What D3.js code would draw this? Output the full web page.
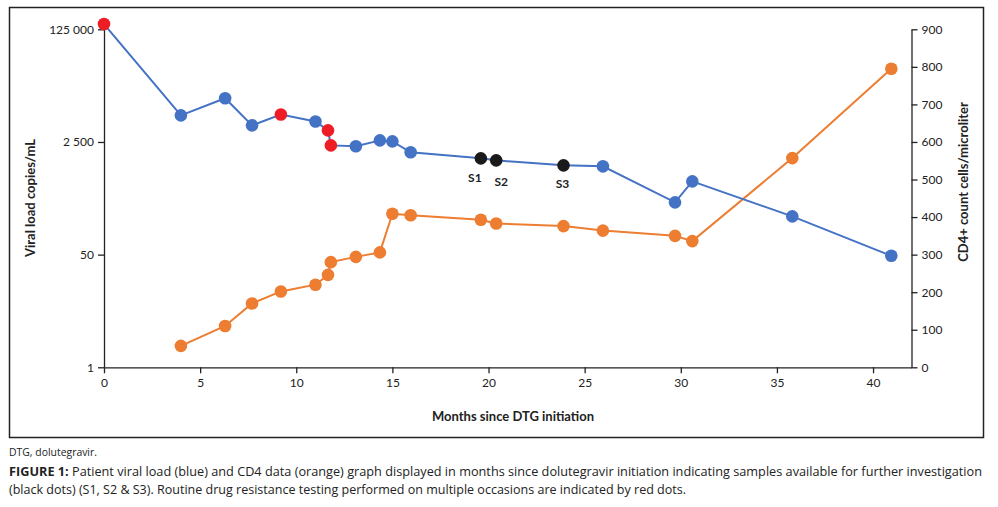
<!DOCTYPE html>
<html>
<head>
<meta charset="utf-8">
<script src="https://cdn.jsdelivr.net/npm/d3@7"></script>
<style>
  body { margin: 0; background: #fff; }
  svg { display: block; }
  .chart text { font-family: Lato, "Open Sans", sans-serif; fill: #222; }
  .caption { font-family: "Open Sans", sans-serif; fill: #222; }
</style>
</head>
<body>
<svg id="body" width="998" height="507"></svg>
<script>
// months since DTG initiation, viral load (copies/mL), CD4 (cells/microliter)
let months    = [0, 4.0, 6.3, 7.7, 9.2, 11.0, 11.65, 11.8, 13.1, 14.35, 15.0, 15.95, 19.6, 20.4, 23.9, 25.95, 29.7, 30.6, 35.8, 40.95];
let viralLoad = [150000, 6300, 11400, 4450, 6500, 5100, 3740, 2220, 2150, 2640, 2550, 1745, 1415, 1320, 1110, 1073, 307, 636, 189, 48];
let cd4       = [null, 57, 110, 170, 202, 220, 246, 280, 294, 306, 409, 405, 393, 383, 376, 364, 350, 336, 557, 795];
// r = drug resistance test, s = stored sample, v = routine
let sampleType = ['r','v','v','v','r','v','r','r','v','v','v','v','s','s','s','v','v','v','v','v'];
let sampleLabels = {12: 'S1', 13: 'S2', 14: 'S3'};

let xTicks  = [0, 5, 10, 15, 20, 25, 30, 35, 40];
let vlTicks = [1, 50, 2500, 125000];
let cdTicks = [0, 100, 200, 300, 400, 500, 600, 700, 800, 900];

let svg = d3.select("#body");

// outer frame
svg.append('rect')
   .attr('x', 9.5).attr('y', 7.5)
   .attr('width', 974).attr('height', 430)
   .attr('fill', 'none').attr('stroke', '#222').attr('stroke-width', 1.5);

let chart = svg.append('g').attr('class', 'chart');

let x = d3.scaleLinear().domain([0, 42]).range([104, 911.5]);
let yVL = d3.scaleLog().domain([1, 125000]).range([367.3, 29.3]);
let yCD = d3.scaleLinear().domain([0, 900]).range([367.3, 29.3]);

let spaced = v => d3.format(',')(v).replace(/,/g, ' ');

let xAxis = chart.append('g')
   .attr('transform', 'translate(0,367.3)')
   .call(d3.axisBottom(x).tickValues(xTicks).tickSize(6).tickSizeOuter(0).tickPadding(5));

let leftAxis = chart.append('g')
   .attr('transform', 'translate(104,0)')
   .call(d3.axisLeft(yVL).tickValues(vlTicks).tickFormat(spaced).tickSize(6).tickSizeOuter(0).tickPadding(4));

let rightAxis = chart.append('g')
   .attr('transform', 'translate(911.5,0)')
   .call(d3.axisRight(yCD).tickValues(cdTicks).tickSize(6).tickSizeOuter(0).tickPadding(4));

[xAxis, leftAxis, rightAxis].forEach(a => {
  a.select('.domain').attr('stroke', '#222').attr('stroke-width', 1.3);
  a.selectAll('.tick line').attr('stroke', '#222').attr('stroke-width', 1.3);
  a.selectAll('.tick text').attr('font-size', 12).attr('fill', '#222')
   .style('font-family', 'Lato, "Open Sans", sans-serif');
});

// axis titles
chart.append('text')
     .attr('x', 513).attr('y', 421)
     .attr('text-anchor', 'middle')
     .attr('font-size', 13).attr('font-weight', 'bold')
     .text('Months since DTG initiation');

chart.append('text')
     .attr('transform', 'translate(35,198) rotate(-90)')
     .attr('text-anchor', 'middle')
     .attr('font-size', 13).attr('font-weight', 'bold')
     .text('Viral load copies/mL');

chart.append('text')
     .attr('transform', 'translate(968,182) rotate(-90)')
     .attr('text-anchor', 'middle')
     .attr('font-size', 13).attr('font-weight', 'bold')
     .text('CD4+ count cells/microliter');

// CD4 series
let cdData = months.map((m, i) => ({m: m, v: cd4[i]})).filter(d => d.v != null);

chart.append('path')
     .datum(cdData)
     .attr('fill', 'none')
     .attr('stroke', '#ED7D31')
     .attr('stroke-width', 2)
     .attr('d', d3.line().x(d => x(d.m)).y(d => yCD(d.v)));

chart.selectAll('circle.cd')
     .data(cdData)
     .enter()
     .append('circle')
     .attr('class', 'cd')
     .attr('r', 6.3)
     .attr('fill', '#ED7D31')
     .attr('cx', d => x(d.m))
     .attr('cy', d => yCD(d.v));

// viral load series
let vlData = months.map((m, i) => ({m: m, v: viralLoad[i], t: sampleType[i], i: i}));

chart.append('path')
     .datum(vlData)
     .attr('fill', 'none')
     .attr('stroke', '#4472C4')
     .attr('stroke-width', 2)
     .attr('d', d3.line().x(d => x(d.m)).y(d => yVL(d.v)));

let dotColour = {r: '#EE1C25', s: '#1A1A1A', v: '#4472C4'};

chart.selectAll('circle.vl')
     .data(vlData)
     .enter()
     .append('circle')
     .attr('class', 'vl')
     .attr('r', 6.3)
     .attr('fill', d => dotColour[d.t])
     .attr('cx', d => x(d.m))
     .attr('cy', d => yVL(d.v));

let labelShift = {S1: [-6, 24], S2: [5, 26], S3: [-1, 23]};

chart.selectAll('text.sample')
     .data(vlData.filter(d => sampleLabels[d.i]))
     .enter()
     .append('text')
     .attr('class', 'sample')
     .attr('text-anchor', 'middle')
     .attr('font-size', 12).attr('font-weight', 'bold')
     .attr('x', d => x(d.m) + labelShift[sampleLabels[d.i]][0])
     .attr('y', d => yVL(d.v) + labelShift[sampleLabels[d.i]][1])
     .text(d => sampleLabels[d.i]);

// caption
svg.append('text')
   .attr('class', 'caption')
   .attr('x', 9).attr('y', 456)
   .attr('font-size', 11)
   .attr('textLength', 88).attr('lengthAdjust', 'spacingAndGlyphs')
   .text('DTG, dolutegravir.');

let cap1 = svg.append('text')
   .attr('class', 'caption')
   .attr('x', 9).attr('y', 476)
   .attr('font-size', 12.6)
   .attr('textLength', 973).attr('lengthAdjust', 'spacingAndGlyphs');
cap1.append('tspan').attr('font-weight', 'bold').text('FIGURE 1:');
cap1.append('tspan').text(' Patient viral load (blue) and CD4 data (orange) graph displayed in months since dolutegravir initiation indicating samples available for further investigation');

svg.append('text')
   .attr('class', 'caption')
   .attr('x', 9).attr('y', 494)
   .attr('font-size', 12.6)
   .attr('textLength', 677).attr('lengthAdjust', 'spacingAndGlyphs')
   .text('(black dots) (S1, S2 & S3). Routine drug resistance testing performed on multiple occasions are indicated by red dots.');
</script>
</body>
</html>
